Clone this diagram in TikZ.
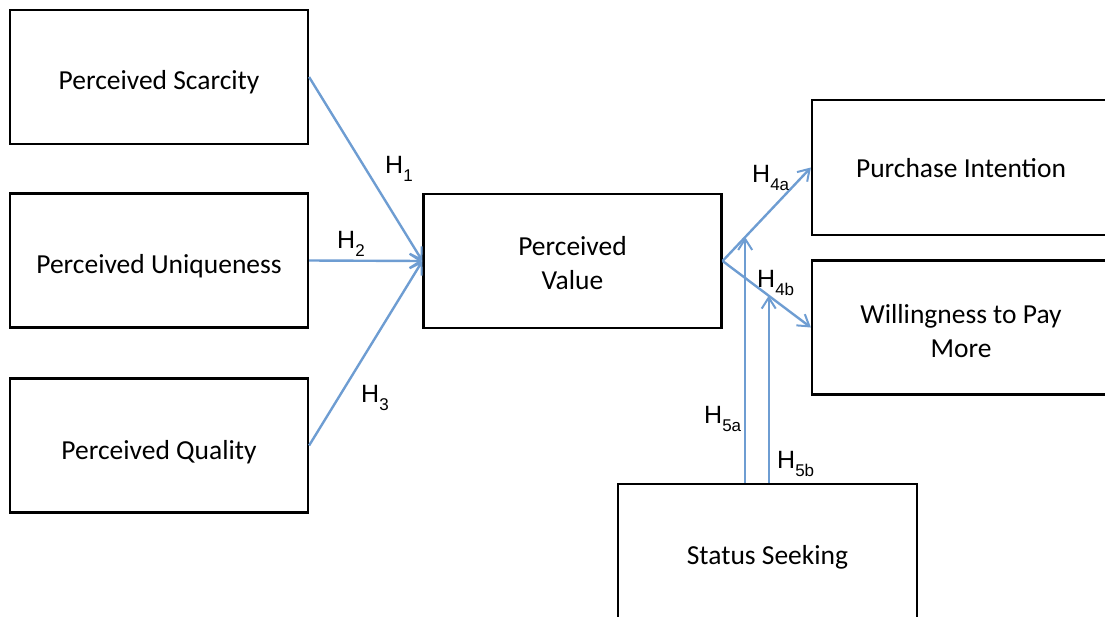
\documentclass[tikz,border=0pt]{standalone}
\usepackage{fontspec}
\setmainfont{Carlito}
\newfontfamily\arialfont{Liberation Sans}
\usetikzlibrary{arrows.meta,calc}
\definecolor{arrowblue}{RGB}{110,157,210}
\tikzset{
  box/.style={draw=black, line width=2.2pt, minimum width=298pt, minimum height=134pt,
    inner sep=0pt, align=center, font=\fontsize{27.5}{34}\selectfont},
  tshift/.style={text height=#1, text depth=0pt},
  link/.style={draw=arrowblue, line width=2.4pt, -{Straight Barb[length=11pt,width=14pt,line width=2pt]}},
  hlab/.style={anchor=base west, inner sep=0pt, font=\arialfont\fontsize{25}{25}\selectfont}
}
\newcommand{\hsub}[2]{H\raisebox{-8.5pt}{\fontsize{17}{17}\selectfont #2}}
\begin{document}
\begin{tikzpicture}[x=1pt,y=-1pt]
\useasboundingbox (0,0) rectangle (1105,616);
\clip (0,0) rectangle (1105,616);
\node[box, tshift=24pt] (scar) at (159,77) {Perceived Scarcity};
\node[box, tshift=26pt] (uniq) at (159,260.5) {Perceived Uniqueness};
\node[box, tshift=27pt] (qual) at (159,445.5) {Perceived Quality};
\node[box] (val) at (572.5,261) {\rule{0pt}{23pt}Perceived\\Value};
\node[box, tshift=20pt, minimum height=135pt] (pi) at (961,167.5) {Purchase Intention};
\node[box] (wtp) at (961,327.5) {\rule{0pt}{26pt}Willingness to Pay\\More};
\node[box, tshift=22pt, minimum height=138pt, minimum width=299pt] (ss) at (767.5,553) {Status Seeking};

\draw[link] (scar.east) -- (val.west);
\draw[link] (uniq.east) -- (val.west);
\draw[link] (qual.east) -- (val.west);
\draw[link] (val.east) -- (pi.west);
\draw[link] (val.east) -- (wtp.west);
\coordinate (h5a) at ($(val.east)!0.2556!(pi.west)$);
\coordinate (h5b) at ($(val.east)!0.5222!(wtp.west)$);
\draw[link] (h5a |- ss.north) -- (h5a);
\draw[link] (h5b |- ss.north) -- (h5b);

\node[hlab] (l1) at (385,173) {\hsub{H}{1}};
\node[hlab] (l2) at (337,248) {\hsub{H}{2}};
\node[hlab] (l3) at (361,402) {\hsub{H}{3}};
\node[hlab] (l4a) at (752,182) {\hsub{H}{4a}};
\node[hlab] (l4b) at (757,287) {\hsub{H}{4b}};
\node[hlab] (l5a) at (704,423) {\hsub{H}{5a}};
\node[hlab] (l5b) at (777,468) {\hsub{H}{5b}};
\end{tikzpicture}
\end{document}
